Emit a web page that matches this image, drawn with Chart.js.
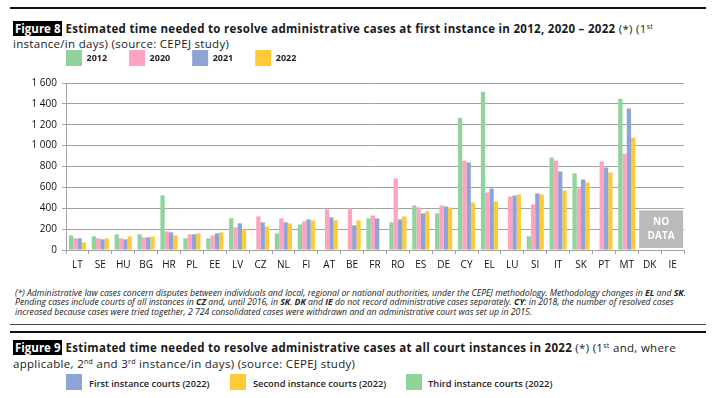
<!DOCTYPE html>
<html>
<head>
<meta charset="utf-8">
<script src="https://cdn.jsdelivr.net/npm/chart.js@4.4.1/dist/chart.umd.min.js"></script>
<style>
  html, body { margin: 0; padding: 0; background: #fff; }
  body { width: 717px; height: 398px; position: relative; overflow: hidden; font-family: "Open Sans", sans-serif; color: #1a1a1a; }
  .rule { position: absolute; left: 10px; width: 696px; background: #111; }
  .title { position: absolute; left: 13px; font-size: 11.5px; line-height: 15px; height: 15px; white-space: nowrap; letter-spacing: 0.3px; }
  .title b { font-weight: bold; }
  .fig { background: #000; color: #fff; font-weight: bold; padding: 0 2px; margin-right: 3px; letter-spacing: 0; }
  .title sup { font-size: 7px; line-height: 0; vertical-align: baseline; position: relative; top: -4px; }
  .note { position: absolute; left: 15px; font-style: italic; font-size: 8.7px; line-height: 9.3px; white-space: nowrap; color: #222; }
  .leg { position: absolute; top: 374px; height: 16px; }
  .sw { position: absolute; top: 0; width: 16px; height: 16px; }
  .lt { position: absolute; top: 5px; font-weight: 600; font-size: 9.3px; line-height: 10px; white-space: nowrap; color: #222; }
  #wrap { position: absolute; left: 0; top: 28px; width: 717px; height: 250px; }
</style>
</head>
<body>
<div class="rule" style="top:7px;height:2px"></div>
<div class="title" style="top:21px"><span class="fig">Figure 8</span><b>Estimated time needed to resolve administrative cases at first instance in 2012, 2020 – 2022</b> (*) (1<sup>st</sup></div>
<div class="title" style="top:36px">instance/in days) (source: CEPEJ study)</div>

<div id="wrap"><canvas id="chart8"></canvas></div>

<div class="note" style="top:289px">
  (*) Administrative law cases concern disputes between individuals and local, regional or national authorities, under the CEPEJ methodology. Methodology changes in <b>EL</b> and <b>SK</b>.<br>
  Pending cases include courts of all instances in <b>CZ</b> and, until 2016, in <b>SK</b>. <b>DK</b> and <b>IE</b> do not record administrative cases separately. <b>CY</b>: in 2018, the number of resolved cases<br>
  increased because cases were tried together, 2 724 consolidated cases were withdrawn and an administrative court was set up in 2015.
</div>

<div class="rule" style="top:324px;height:1px;background:#444"></div>
<div class="rule" style="top:331px;height:2px"></div>
<div class="title" style="top:340px"><span class="fig">Figure 9</span><b>Estimated time needed to resolve administrative cases at all court instances in 2022</b> (*) (1<sup>st</sup> and, where</div>
<div class="title" style="top:356px">applicable, 2<sup>nd</sup> and 3<sup>rd</sup> instance/in days) (source: CEPEJ study)</div>

<div class="leg" style="left:66px"><div class="sw" style="background:#8EA3D6"></div><div class="lt" style="left:23px">First instance courts (2022)</div></div>
<div class="leg" style="left:230px"><div class="sw" style="background:#FFCA38"></div><div class="lt" style="left:23px">Second instance courts (2022)</div></div>
<div class="leg" style="left:406px"><div class="sw" style="background:#91D39D"></div><div class="lt" style="left:22px">Third instance courts (2022)</div></div>

<script>
// Figure 8 data (days, first instance)
const countries = ['LT', 'SE', 'HU', 'BG', 'HR', 'PL', 'EE', 'LV', 'CZ', 'NL', 'FI', 'AT', 'BE', 'FR',
    'RO', 'ES', 'DE', 'CY', 'EL', 'LU', 'SI', 'IT', 'SK', 'PT', 'MT', 'DK', 'IE'];
const years = ['2012', '2020', '2021', '2022'];
const days2012 = [140, 131, 150, 150, 523, 112, 112, 303, null, 159, 245, null, null, 303,
    265, 427, 351, 1268, 1517, null, 131, 886, 733, null, 1450, null, null];
const days2020 = [112, 112, 112, 121, 178, 150, 140, 217, 322, 303, 274, 389, 398, 331,
    685, 408, 427, 857, 551, 513, 437, 857, 589, 848, 924, null, null];
const days2021 = [112, 102, 102, 121, 169, 150, 159, 255, 265, 265, 293, 312, 236, 303,
    293, 351, 417, 838, 589, 522, 542, 752, 675, 790, 1355, null, null];
const days2022 = [73, 112, 131, 131, 140, 159, 169, 198, 226, 255, 284, 284, 284, null,
    322, 370, 408, 456, 465, 532, 532, 570, 647, 743, 1077, null, null];
const noDataCountries = ['DK', 'IE'];
const noDataLabel = ['NO', 'DATA'];
const yTicks = { min: 0, max: 1600, step: 200 };

const colors = ['#91D39D', '#FFA3C0', '#8EA3D6', '#FFCA38'];
const tickFont = { family: 'Open Sans', size: 10 };
const gridColor = '#a3a3a3';

// legend: extra room below it, and start it over the plot instead of the page edge
const legendMargin = {
    id: 'legendMargin',
    beforeInit(chart) {
        const fit = chart.legend.fit;
        chart.legend.fit = function () {
            fit.bind(chart.legend)();
            this.height += 7;
        };
    },
    afterLayout(chart) {
        chart.legend.left += 24;
        chart.legend.right += 24;
    }
};

// grey "NO DATA" box over DK / IE
const noDataBox = {
    id: 'noDataBox',
    afterDatasetsDraw(chart) {
        const x = chart.scales.x, y = chart.scales.y, ctx = chart.ctx;
        const half = (x.getPixelForValue(1) - x.getPixelForValue(0)) / 2;
        const i0 = countries.indexOf(noDataCountries[0]);
        const i1 = countries.indexOf(noDataCountries[noDataCountries.length - 1]);
        const left = x.getPixelForValue(i0) - half + 1;
        const right = x.getPixelForValue(i1) + half - 1;
        const top = y.getPixelForValue(380);
        const bottom = y.getPixelForValue(0) - 2;
        ctx.save();
        ctx.fillStyle = '#bababa';
        ctx.fillRect(left, top, right - left, bottom - top);
        ctx.fillStyle = '#ffffff';
        ctx.font = 'bold 10px "Open Sans", sans-serif';
        ctx.textAlign = 'center';
        ctx.textBaseline = 'middle';
        const cx = (left + right) / 2, cy = (top + bottom) / 2;
        ctx.fillText(noDataLabel[0], cx, cy - 7);
        ctx.fillText(noDataLabel[1], cx, cy + 7);
        ctx.restore();
    }
};

const series = [days2012, days2020, days2021, days2022];

new Chart(document.getElementById('chart8'), {
    type: 'bar',
    data: {
        labels: countries,
        datasets: years.map((yr, i) => ({
            label: yr,
            data: series[i],
            backgroundColor: colors[i],
            borderWidth: 0,
            barPercentage: 1,
            categoryPercentage: 0.75
        }))
    },
    options: {
        responsive: true,
        maintainAspectRatio: false,
        animation: false,
        layout: { padding: { left: 20, right: 33, top: 0, bottom: 2 } },
        plugins: {
            legend: {
                position: 'top',
                align: 'start',
                labels: {
                    boxWidth: 16,
                    boxHeight: 16,
                    padding: 22,
                    color: '#222',
                    font: { family: 'Open Sans', size: 9, weight: 'bold' }
                }
            },
            tooltip: { enabled: false }
        },
        scales: {
            x: {
                grid: { display: true, drawOnChartArea: false, drawTicks: true, tickLength: 4, offset: true, color: gridColor },
                border: { display: true, color: gridColor },
                ticks: { color: '#111', font: tickFont, padding: 5, maxRotation: 0, autoSkip: false }
            },
            y: {
                min: yTicks.min,
                max: yTicks.max,
                afterFit(scale) { scale.width = 46; },
                grid: { color: gridColor, lineWidth: 1, tickLength: 4 },
                border: { display: true, color: gridColor },
                ticks: {
                    stepSize: yTicks.step,
                    color: '#111',
                    font: tickFont,
                    padding: 5,
                    callback: function (value) {
                        if (value >= 1000) {
                            return Math.floor(value / 1000) + ' ' + String(value % 1000).padStart(3, '0');
                        }
                        return value;
                    }
                }
            }
        }
    },
    plugins: [legendMargin, noDataBox]
});
</script>
</body>
</html>
